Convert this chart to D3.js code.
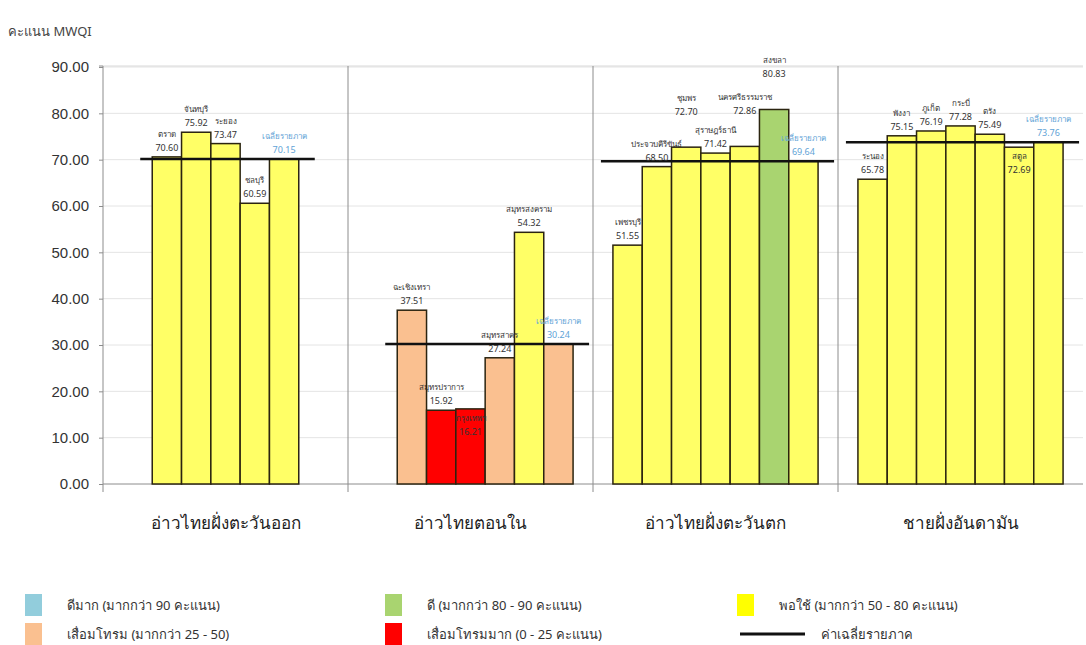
<!DOCTYPE html>
<html>
<head>
<meta charset="utf-8">
<script src="https://cdn.jsdelivr.net/npm/d3@7"></script>
<style>
  body { margin: 0; background: #fff; }
  svg { font-family: Tahoma, "Noto Sans", "DejaVu Sans", sans-serif; }
</style>
</head>
<body>
<div id="chart"></div>
<script>
// data (null = empty slot)
const regions = ["อ่าวไทยฝั่งตะวันออก", "อ่าวไทยตอนใน", "อ่าวไทยฝั่งตะวันตก", "ชายฝั่งอันดามัน"];

const eastNames  = [null, "ตราด", "จันทบุรี", "ระยอง", "ชลบุรี", "เฉลี่ยรายภาค", null];
const eastValues = [null, 70.60, 75.92, 73.47, 60.59, 70.15, null];

const innerNames  = [null, "ฉะเชิงเทรา", "สมุทรปราการ", "กรุงเทพฯ", "สมุทรสาคร", "สมุทรสงคราม", "เฉลี่ยรายภาค"];
const innerValues = [null, 37.51, 15.92, 16.21, 27.24, 54.32, 30.24];

const westNames  = ["เพชรบุรี", "ประจวบคีรีขันธ์", "ชุมพร", "สุราษฎร์ธานี", "นครศรีธรรมราช", "สงขลา", "เฉลี่ยรายภาค"];
const westValues = [51.55, 68.50, 72.70, 71.42, 72.86, 80.83, 69.64];

const andamanNames  = ["ระนอง", "พังงา", "ภูเก็ต", "กระบี่", "ตรัง", "สตูล", "เฉลี่ยรายภาค"];
const andamanValues = [65.78, 75.15, 76.19, 77.28, 75.49, 72.69, 73.76];

const regionAverages = [70.15, 30.24, 69.64, 73.76];
const yTicks = [0, 10, 20, 30, 40, 50, 60, 70, 80, 90];

const legendLabels = [
  "ดีมาก (มากกว่า 90  คะแนน)",
  "ดี (มากกว่า 80 - 90 คะแนน)",
  "พอใช้ (มากกว่า 50 - 80 คะแนน)",
  "เสื่อมโทรม (มากกว่า 25 - 50)",
  "เสื่อมโทรมมาก (0 - 25 คะแนน)",
  "ค่าเฉลี่ยรายภาค"
];

const groups = [
  {names: eastNames, values: eastValues},
  {names: innerNames, values: innerValues},
  {names: westNames, values: westValues},
  {names: andamanNames, values: andamanValues}
];

const W = 1086, H = 645;
const plot = {left: 103, right: 1083, top: 66, bottom: 484};
const AVG = "เฉลี่ยรายภาค";

const svg = d3.select("#chart").append("svg")
    .attr("width", W)
    .attr("height", H);

let x = d3.scaleBand()
    .domain(regions)
    .range([plot.left, plot.right]);

let y = d3.scaleLinear()
    .domain([0, 90])
    .range([plot.bottom, plot.top + 1]);

let color = d3.scaleThreshold()
    .domain([25, 50, 80, 90])
    .range(["#ff0000", "#fac090", "#ffff66", "#a9d470", "#92cddc"]);

// grid + frame
svg.append("g")
    .selectAll("line")
    .data(yTicks.slice(1))
    .enter().append("line")
    .attr("x1", plot.left).attr("x2", plot.right)
    .attr("y1", d => y(d)).attr("y2", d => y(d))
    .attr("stroke", "#e4e4e4");

svg.append("line")
    .attr("x1", plot.left).attr("x2", plot.right)
    .attr("y1", plot.top).attr("y2", plot.top)
    .attr("stroke", "#d8d8d8");

// y axis
let yAxis = svg.append("g")
    .attr("transform", `translate(${plot.left},0)`)
    .call(d3.axisLeft(y).tickValues(yTicks).tickFormat(d3.format(".2f")).tickSize(4).tickPadding(10));
yAxis.select(".domain").attr("stroke", "#8c8c8c").attr("d", `M-4,${plot.top}H0V${plot.bottom}`);
yAxis.selectAll(".tick line").attr("stroke", "#8c8c8c");
yAxis.selectAll("text").style("font-size", "15px").attr("fill", "#333");

// region separators + bottom axis
svg.append("line")
    .attr("x1", plot.left).attr("x2", plot.right)
    .attr("y1", plot.bottom).attr("y2", plot.bottom)
    .attr("stroke", "#8c8c8c");

svg.append("g")
    .selectAll("line")
    .data(regions.slice(1))
    .enter().append("line")
    .attr("x1", d => x(d)).attr("x2", d => x(d))
    .attr("y1", plot.top).attr("y2", plot.bottom + 8)
    .attr("stroke", "#8c8c8c");

svg.append("line")
    .attr("x1", plot.left).attr("x2", plot.left)
    .attr("y1", plot.bottom).attr("y2", plot.bottom + 8)
    .attr("stroke", "#8c8c8c");

svg.append("g")
    .selectAll("text")
    .data(regions)
    .enter().append("text")
    .attr("x", d => x(d) + x.bandwidth() / 2)
    .attr("y", 529)
    .style("text-anchor", "middle")
    .style("font-size", "17px")
    .attr("fill", "#222")
    .text(d => d);

let barLayer = svg.append("g");
let lineLayer = svg.append("g");
let labelLayer = svg.append("g");

// bars per region
groups.forEach((g, i) => {
  let region = regions[i];
  let slot = d3.scaleBand()
      .domain(d3.range(g.values.length))
      .range([x(region), x(region) + x.bandwidth()])
      .paddingOuter(0.68);

  let rows = g.values.map((v, j) => ({name: g.names[j], value: v, j: j}))
      .filter(d => d.value !== null);

  barLayer.selectAll(null)
      .data(rows)
      .enter().append("rect")
      .attr("x", d => slot(d.j))
      .attr("y", d => y(d.value))
      .attr("width", slot.bandwidth())
      .attr("height", d => y(0) - y(d.value))
      .attr("fill", d => color(d.value))
      .attr("stroke", "#2b2410")
      .attr("stroke-width", 1.5);

  // region average line
  let first = rows[0].j, last = rows[rows.length - 1].j;
  lineLayer.append("line")
      .attr("x1", slot(first) - 12)
      .attr("x2", Math.min(slot(last) + slot.bandwidth() + 16, W))
      .attr("y1", y(regionAverages[i]))
      .attr("y2", y(regionAverages[i]))
      .attr("stroke", "#111")
      .attr("stroke-width", 2.5);

  // labels: average first, then the rest; try above the bar, inside it, then stacked higher
  let order = rows.filter(d => d.name === AVG).concat(rows.filter(d => d.name !== AVG));
  let placed = [];
  order.forEach(d => {
    let cx = slot(d.j) + slot.bandwidth() / 2;
    let top = y(d.value);
    let fill = d.name === AVG ? "#5fa3d6" : "#333";
    let name = labelLayer.append("text")
        .attr("x", cx)
        .style("text-anchor", "middle")
        .style("font-size", "8px")
        .attr("fill", fill)
        .text(d.name);
    let val = labelLayer.append("text")
        .attr("x", cx)
        .style("text-anchor", "middle")
        .style("font-size", "9px")
        .attr("fill", fill)
        .text(d.value.toFixed(2));
    let w = Math.max(name.node().getComputedTextLength(), val.node().getComputedTextLength());
    let h = 26;
    let cands = [top - h - 3];
    if (y(0) - top > 45) cands.push(top + 3);
    for (let k = 1; k < 6; k++) cands.push(top - h - 3 - h * k);
    let box;
    for (let c of cands) {
      box = {x0: cx - w / 2, x1: cx + w / 2, y0: c, y1: c + h};
      let hit = placed.some(b => box.x0 < b.x1 && box.x1 > b.x0 && box.y0 < b.y1 && box.y1 > b.y0);
      if (!hit) break;
    }
    placed.push(box);
    name.attr("y", box.y0 + 9);
    val.attr("y", box.y0 + 23);
  });
});

// y title
svg.append("text")
    .attr("x", 8)
    .attr("y", 36)
    .style("font-size", "13px")
    .attr("fill", "#444")
    .text("คะแนน MWQI");

// legend
const legendColors = ["#92cddc", "#a9d470", "#ffff00", "#fac090", "#ff0000", null];
const legendX = [25, 385, 737];
const legend = svg.append("g");

legendLabels.forEach((label, k) => {
  let col = k < 3 ? k : k - 3;
  let row = k < 3 ? 0 : 1;
  let lx = legendX[col], ly = 605 + row * 29;
  let item = legend.append("g").attr("transform", `translate(${lx},${ly})`);
  if (legendColors[k]) {
    item.append("rect")
        .attr("x", 0).attr("y", -11)
        .attr("width", 17).attr("height", 22)
        .attr("fill", legendColors[k]);
    item.append("text")
        .attr("x", 42).attr("y", 5)
        .style("font-size", "13px")
        .attr("fill", "#333")
        .text(label);
  } else {
    item.append("line")
        .attr("x1", 3).attr("x2", 68)
        .attr("y1", 0).attr("y2", 0)
        .attr("stroke", "#111")
        .attr("stroke-width", 3);
    item.append("text")
        .attr("x", 84).attr("y", 5)
        .style("font-size", "13px")
        .attr("fill", "#333")
        .text(label);
  }
});
</script>
</body>
</html>
